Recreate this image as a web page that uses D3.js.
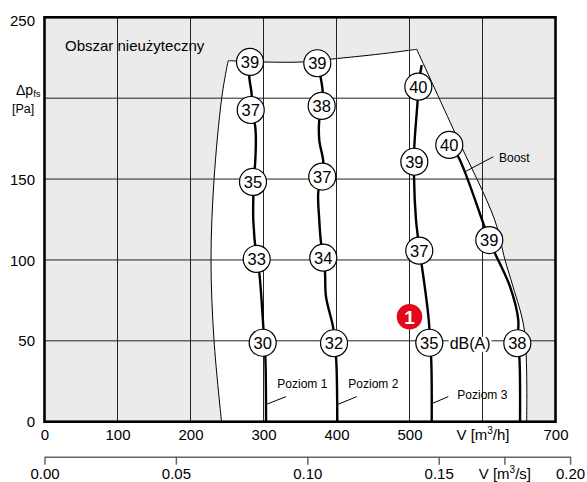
<!DOCTYPE html>
<html>
<head>
<meta charset="utf-8">
<script src="https://cdn.jsdelivr.net/npm/d3@7/dist/d3.min.js"></script>
<style>
    body { margin: 0; background: #fff; }
    svg text { font-family: "Liberation Sans", Arial, sans-serif; fill: #000; }
</style>
</head>
<body>
<div id="chart"></div>
<script>
"use strict";

// axis ticks
const flowTicks = [0, 100, 200, 300, 400, 500, 600, 700];
const flowTickLabels = ["0", "100", "200", "300", "400", "500", "V [m3/h]", "700"];
const pressureTicks = [0, 50, 100, 150, 200, 250];
const pressureTickLabels = ["0", "50", "100", "150", "", "250"];
const flowSecTicks = [0, 0.05, 0.10, 0.15, 0.175, 0.20];
const flowSecTickLabels = ["0.00", "0.05", "0.10", "0.15", "V [m3/s]", "0.20"];

// usable working area borders (flow m3/h, pressure Pa)
const envelopeLeft = [
    [242.5, 0], [232.2, 50.4], [228.1, 99.9], [232.2, 149.4], [242.7, 199.9],
    [250.4, 220.5], [251.8, 223.2]
];
const envelopeTop = [
    [251.8, 223.2], [298, 222.4], [354, 222.4], [393.8, 224.2], [459.6, 227.3], [509.9, 230.2]
];
const envelopeRight = [
    [509.9, 230.2], [563.5, 177.4], [616.8, 124.6], [630.8, 100], [641.8, 83.5],
    [657.3, 56.7], [660.5, 0]
];

// fan curves
const level1Curve = [
    [303.5, 0], [302.5, 40], [300, 57], [294.2, 92], [290.7, 100.6], [286, 124.7],
    [286, 140], [285.6, 148.2], [288.4, 158.7], [288.4, 183.4], [282.5, 192.7],
    [283.8, 202], [280.5, 213.3], [281.5, 222.4]
];
const level2Curve = [
    [401.1, 0], [399.3, 40.2], [396.6, 48.5], [395.6, 57.7], [385.6, 77.3], [384.2, 92.7],
    [381.9, 101.4], [378.4, 112.3], [376.4, 124.7], [375.1, 142.2], [380.5, 151.5],
    [381.9, 160.7], [376.4, 174.1], [376.4, 186.5], [379.7, 195.2], [381.1, 204],
    [378.4, 212.5], [373.7, 221.6]
];
const level3Curve = [
    [530.4, 0], [529.5, 40.2], [527.1, 48.8], [527.1, 58.7], [516.7, 96.9], [513.4, 105.7],
    [511.2, 115.4], [508.9, 124.7], [506.2, 151.5], [506.6, 160.7], [506.6, 170],
    [511.2, 198.9], [512.1, 207.1], [516.7, 220.5]
];
const boostCurve = [
    [651.4, 0], [650.4, 40.2], [647.7, 48.5], [649, 62.9], [637.7, 83.5], [617.1, 104.1],
    [609.3, 112.3], [601.1, 122.6], [566.8, 163.8], [554.5, 171.1]
];

// sound level marks [flow, pressure, dB(A)]
const level1Marks = [[281.5, 222.4, 39], [282.5, 192.7, 37], [285.6, 148.2, 35], [290.7, 100.6, 33], [298.9, 48.8, 30]];
const level2Marks = [[373.7, 221.6, 39], [379.7, 195.2, 38], [380.5, 151.5, 37], [381.9, 101.4, 34], [396.6, 48.5, 32]];
const level3Marks = [[512.1, 207.1, 40], [506.6, 160.7, 39], [513.4, 105.7, 37], [527.1, 48.8, 35]];
const boostMarks = [[554.5, 171.1, 40], [609.3, 112.3, 39], [647.7, 48.5, 38]];

// curve names: [text, flow, pressure, leader from, leader to]
const curveNames = [
    ["Poziom 1", 318.9, 23.7, [330.8, 15.5], [304.4, 10.8]],
    ["Poziom 2", 416.2, 23.7, [427.7, 15.5], [402.5, 10.8]],
    ["Poziom 3", 565.5, 16.5, [553.2, 15.5], [531.8, 11.4]],
    ["Boost", 622.6, 163.2, [614.8, 163.8], [576, 154.5]]
];

const width = 587;
const height = 482;

let svg = d3.select("#chart").append("svg")
    .attr("width", width)
    .attr("height", height);

// scales
let x = d3.scaleLinear().domain([0, 700]).range([44.5, 555.5]);
let y = d3.scaleLinear().domain([0, 250]).range([421.7, 17.3]);
let xSec = d3.scaleLinear().domain([0, 0.2]).range([x(0), x(720)]);

let plotW = x(700) - x(0);
let plotH = y(0) - y(250);

// writes "V [m3/h]" style label with superscript
function unitLabel(text, label) {
    let parts = label.split("m3");
    text.text(null);
    text.append("tspan").text(parts[0] + "m");
    text.append("tspan").attr("dy", "-6").style("font-size", "10px").text("3");
    text.append("tspan").attr("dy", "6").text(parts[1]);
}

// unusable area background
svg.append("rect")
    .attr("x", x(0))
    .attr("y", y(250))
    .attr("width", plotW)
    .attr("height", plotH)
    .style("fill", "#ebebeb");

// usable area, built from three smooth borders
let smooth = d3.line()
    .x(d => x(d[0]))
    .y(d => y(d[1]))
    .curve(d3.curveCatmullRom.alpha(0.5));

let envelopePath = [envelopeLeft, envelopeTop, envelopeRight]
    .map((seg, i) => i === 0 ? smooth(seg) : smooth(seg).replace(/^M/, "L"))
    .join("") + "Z";

svg.append("path")
    .attr("d", envelopePath)
    .style("fill", "#fff")
    .style("stroke", "#000")
    .style("stroke-width", 1);

// grid
svg.append("g")
    .attr("class", "grid")
    .selectAll("line.v")
    .data(flowTicks.slice(1, -1))
    .enter()
    .append("line")
    .attr("x1", d => x(d))
    .attr("x2", d => x(d))
    .attr("y1", y(0))
    .attr("y2", y(250))
    .style("stroke", "#222")
    .style("stroke-width", 1);

svg.append("g")
    .attr("class", "grid")
    .selectAll("line.h")
    .data(pressureTicks.slice(1, -1))
    .enter()
    .append("line")
    .attr("x1", x(0))
    .attr("x2", x(700))
    .attr("y1", d => y(d))
    .attr("y2", d => y(d))
    .style("stroke", "#222")
    .style("stroke-width", 1);

// curves
[level1Curve, level2Curve, level3Curve, boostCurve].forEach(c => {
    svg.append("path")
        .datum(c)
        .attr("d", smooth)
        .style("fill", "none")
        .style("stroke", "#000")
        .style("stroke-width", 2.4);
});

// curve names with leaders
curveNames.forEach(n => {
    svg.append("line")
        .attr("x1", x(n[3][0]))
        .attr("y1", y(n[3][1]))
        .attr("x2", x(n[4][0]))
        .attr("y2", y(n[4][1]))
        .style("stroke", "#000")
        .style("stroke-width", 1);
    svg.append("text")
        .attr("x", x(n[1]))
        .attr("y", y(n[2]))
        .attr("dy", "0.35em")
        .style("font-size", "12px")
        .text(n[0]);
});

// dB(A) label with white background
let dbLabel = svg.append("g");
let dbText = dbLabel.append("text")
    .attr("x", x(583))
    .attr("y", y(48.6))
    .attr("dy", "0.36em")
    .attr("text-anchor", "middle")
    .style("font-size", "16px")
    .text("dB(A)");
let box = dbText.node().getBBox();
dbLabel.insert("rect", "text")
    .attr("x", box.x - 1)
    .attr("y", box.y + 2)
    .attr("width", box.width + 2)
    .attr("height", box.height - 2)
    .style("fill", "#fff");

// sound level marks
let marks = level1Marks.concat(level2Marks, level3Marks, boostMarks);
let markG = svg.append("g")
    .selectAll("g.mark")
    .data(marks)
    .enter()
    .append("g")
    .attr("class", "mark")
    .attr("transform", d => "translate(" + x(d[0]) + "," + y(d[1]) + ")");

markG.append("circle")
    .attr("r", 13.5)
    .style("fill", "#fff")
    .style("stroke", "#000")
    .style("stroke-width", 1.2);

markG.append("text")
    .attr("text-anchor", "middle")
    .attr("dy", "0.36em")
    .style("font-size", "16.5px")
    .text(d => d[2]);

// red reference marker
let marker = svg.append("g")
    .attr("transform", "translate(" + x(500) + "," + y(64.9) + ")");
marker.append("circle")
    .attr("r", 12.8)
    .style("fill", "#e2071b");
marker.append("text")
    .attr("text-anchor", "middle")
    .attr("dy", "0.36em")
    .style("font-size", "19px")
    .style("font-weight", "bold")
    .style("fill", "#fff")
    .text("1");

// unusable area label
svg.append("text")
    .attr("x", x(28.1))
    .attr("y", y(232.3))
    .attr("dy", "0.35em")
    .style("font-size", "15px")
    .text("Obszar nieużyteczny");

// frame
svg.append("rect")
    .attr("x", x(0))
    .attr("y", y(250))
    .attr("width", plotW)
    .attr("height", plotH)
    .style("fill", "none")
    .style("stroke", "#000")
    .style("stroke-width", 2.6);

// x axis (m3/h)
let xAxis = d3.axisBottom(x)
    .tickValues(flowTicks)
    .tickSize(0)
    .tickPadding(8)
    .tickFormat((d, i) => flowTickLabels[i]);

let gx = svg.append("g")
    .attr("transform", "translate(0," + y(0) + ")")
    .call(xAxis);
gx.select(".domain").remove();
gx.selectAll("text")
    .style("font-size", "15px")
    .attr("fill", null)
    .each(function (d, i) {
        if (flowTickLabels[i].indexOf("m3") >= 0) {
            unitLabel(d3.select(this), flowTickLabels[i]);
        }
    });

// y axis (Pa)
let yAxis = d3.axisLeft(y)
    .tickValues(pressureTicks)
    .tickSize(0)
    .tickPadding(9.5)
    .tickFormat((d, i) => pressureTickLabels[i]);

let gy = svg.append("g")
    .attr("transform", "translate(" + x(0) + ",0)")
    .call(yAxis);
gy.select(".domain").remove();
gy.selectAll("text")
    .style("font-size", "15px")
    .attr("fill", null)
    .attr("dy", d => d === 250 ? "0.55em" : "0.34em");

// y axis title
let yTitle = svg.append("text")
    .attr("x", 16)
    .attr("y", 95)
    .style("font-size", "14px");
yTitle.append("tspan").text("\u0394p");
yTitle.append("tspan").attr("dy", "2").style("font-size", "9.5px").text("fs");

svg.append("text")
    .attr("x", 12)
    .attr("y", 113)
    .style("font-size", "12.5px")
    .text("[Pa]");

// secondary x axis (m3/s)
let xSecAxis = d3.axisBottom(xSec)
    .tickValues(flowSecTicks)
    .tickSizeInner(8)
    .tickSizeOuter(0)
    .tickPadding(4)
    .tickFormat((d, i) => flowSecTickLabels[i]);

let gs = svg.append("g")
    .attr("transform", "translate(0,456.7)")
    .call(xSecAxis);
gs.select(".domain")
    .attr("stroke", "#666")
    .attr("stroke-width", 1.5);
gs.selectAll(".tick line")
    .attr("stroke", "#666")
    .attr("stroke-width", 1.5);
gs.selectAll("text")
    .style("font-size", "15px")
    .attr("fill", null)
    .each(function (d, i) {
        if (flowSecTickLabels[i].indexOf("m3") >= 0) {
            unitLabel(d3.select(this), flowSecTickLabels[i]);
        }
    });
</script>
</body>
</html>
